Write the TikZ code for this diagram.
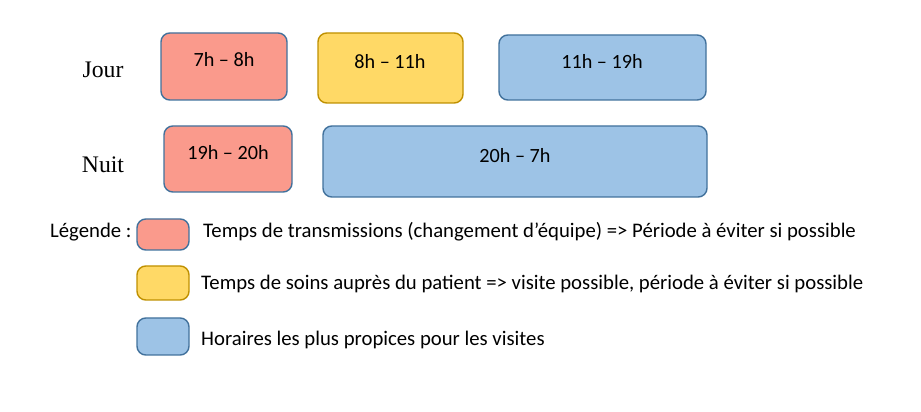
\documentclass[tikz,border=0pt]{standalone}
\usepackage{fontspec}
\setmainfont{Carlito}
\newfontfamily\serifjour{Liberation Serif}
\usetikzlibrary{positioning}
\definecolor{rouge}{HTML}{FA9A8C}
\definecolor{jaune}{HTML}{FFD966}
\definecolor{bleu}{HTML}{9DC3E6}
\definecolor{bordbleu}{HTML}{41719C}
\definecolor{bordjaune}{HTML}{BF9000}

\begin{document}
\begin{tikzpicture}[x=0.02cm, y=-0.02cm,
		slot/.style={draw=bordbleu, thick, rounded corners=5pt},
		transm/.style={slot, fill=rouge},
		soins/.style={slot, fill=jaune, draw=bordjaune},
		visite/.style={slot, fill=bleu},
		slottext/.style={font=\fontsize{11.5}{13}\selectfont},
		legtext/.style={anchor=west, font=\fontsize{11.8}{13}\selectfont},
		rowlabel/.style={font=\serifjour\fontsize{13.5}{15}\selectfont}
		]
		\useasboundingbox (0,0) rectangle (921,412);
		
		% Jour
		\node[rowlabel] (jour) at (103,70) {Jour};
		\draw[transm] (161,33) rectangle (287,100);
		\node[slottext] (j1) at (224,60) {7h -- 8h};
		\draw[soins] (318,33) rectangle (463,103);
		\node[slottext] (j2) at (390,62) {8h -- 11h};
		\draw[visite] (499,35) rectangle (706,100);
		\node[slottext] (j3) at (602,61) {11h -- 19h};
		
		% Nuit
		\node[rowlabel] (nuit) at (103,165) {Nuit};
		\draw[transm] (164,126) rectangle (292,192);
		\node[slottext] (n1) at (228,153) {19h -- 20h};
		\draw[visite] (323,126) rectangle (707,197);
		\node[slottext] (n2) at (515,156) {20h -- 7h};
		
		% Légende
		\node[legtext] (leg) at (44,232) {Légende :};
		\draw[transm] (137,219) rectangle (189,250);
		\draw[soins] (137,266) rectangle (189,300);
		\draw[visite] (137,318) rectangle (189,355);
		\node[legtext] (l1) at (197,232) {Temps de transmissions (changement d’équipe) => Période à éviter si possible};
		\node[legtext] (l2) at (195,284) {Temps de soins auprès du patient => visite possible, période à éviter si possible};
		\node[legtext] (l3) at (195,340) {Horaires les plus propices pour les visites};
		
	\end{tikzpicture}
\end{document}
